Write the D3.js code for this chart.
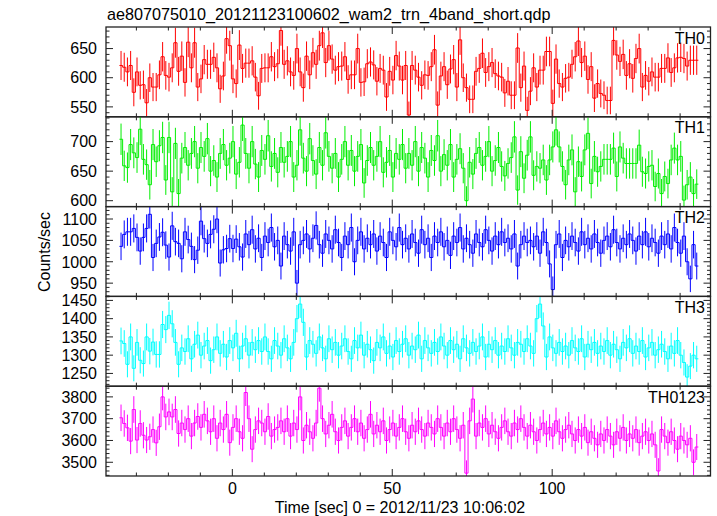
<!DOCTYPE html>
<html><head><meta charset="utf-8">
<script src="https://cdn.jsdelivr.net/npm/d3@7"></script>
<style>
body{margin:0;background:#fff}
svg text{font-family:"Liberation Sans",Arial,Helvetica,sans-serif;fill:#000}
</style>
</head><body>
<svg id="chart" width="717" height="516"></svg>
<script>
const title = "ae807075010_20121123100602_wam2_trn_4band_short.qdp";
const xLabel = "Time [sec] 0 = 2012/11/23 10:06:02";
const yLabel = "Counts/sec";
const binStart = -35.3;
const binWidth = 1;
const xTicksMajor = [0, 50, 100];

const panelNames = ["TH0", "TH1", "TH2", "TH3", "TH0123"];
const panelColors = ["#ff0000", "#00ee00", "#0000ff", "#00ffff", "#ff00ff"];
const yDomains = [[533, 687], [590, 742], [919, 1129], [1215, 1461], [3437, 3849]];
const yTicksMajor = [[550, 600, 650], [600, 650, 700], [950, 1000, 1050, 1100], [1250, 1300, 1350, 1400, 1450], [3500, 3600, 3700, 3800]];
const yMinorStep = [10, 10, 10, 10, 20];

const th0 = [
621,618,610,621,575,610,587,588,557,600,
584,584,605,636,604,601,617,660,611,637,
592,661,617,660,584,598,631,623,623,635,
617,581,603,667,655,598,590,656,616,625,
625,629,601,569,616,617,617,636,619,624,
681,623,629,610,604,650,610,583,637,605,
643,623,655,677,626,655,632,613,619,620,
636,597,605,605,650,592,593,624,627,622,
594,616,613,567,611,596,638,620,596,621,
536,621,613,601,587,605,604,619,648,553,
603,619,588,615,631,584,665,600,583,563,
563,611,616,642,609,619,626,607,603,601,
574,594,570,570,651,583,620,544,577,617,
584,613,613,645,645,556,632,590,584,599,
601,623,636,663,626,637,597,619,565,590,
573,570,561,561,664,639,628,640,604,624,
599,633,650,584,604,594,610,601,601,616,
616,634,609,617,634,635,633,620,630,630,
630];
const th1 = [
704,659,656,695,681,673,721,670,661,627,
695,666,693,707,635,707,615,697,612,672,
690,660,680,700,655,690,675,705,650,668,
640,680,695,660,672,700,645,665,728,680,
655,700,662,640,685,670,710,658,680,648,
690,665,675,700,640,660,720,672,650,705,
668,645,690,660,715,675,655,680,640,670,
700,660,685,650,675,695,630,668,690,660,
675,700,648,665,685,640,680,670,695,655,
680,660,700,650,690,672,640,685,668,710,
650,678,660,695,640,670,688,655,600,665,
645,680,690,660,675,700,650,668,690,658,
642,663,673,708,618,683,638,677,708,643,
658,655,669,635,669,691,720,691,658,627,
669,686,615,666,641,686,714,629,675,649,
658,670,670,670,689,641,691,672,663,663,
663,663,694,649,646,658,660,624,646,612,
641,629,669,689,669,675,601,627,640,612,
628];
const th2 = [
1036,1064,1070,1070,1078,1057,1025,1057,1078,1111,
1010,1043,1058,1069,1039,1011,1084,1047,1043,1007,
1070,1052,1036,1005,1027,1095,1054,1043,1064,1076,
1100,997,1028,1031,1054,1031,1053,1035,1011,1065,
1040,1075,1030,1055,1010,1060,1045,1080,1035,1050,
990,1060,1040,1025,1070,950,1040,1050,1065,1030,
1055,1085,1040,1020,1065,1050,1030,1075,1045,1010,
1060,1040,1080,1000,1050,1070,1030,1055,1040,1065,
1025,1060,1045,1010,1070,1050,1035,1080,1040,1055,
1030,1065,1045,1020,1075,1040,1055,1010,1060,1045,
1070,1035,1050,1015,1060,1045,1080,1030,1055,1040,
1020,1065,1045,1035,1075,1050,1025,1060,1040,1070,
1045,1055,1030,1065,990,1040,1060,1045,1050,1035,
1060,1020,1070,1045,995,935,1040,1065,1010,1050,
1035,1060,1045,1025,1070,1040,1055,1030,1065,1045,
1020,1050,1060,1035,1075,1045,1030,1055,1040,1065,
1050,1025,1060,1040,1070,1035,1055,1045,1020,1060,
1040,1065,1030,1080,1045,1020,1060,1000,960,1040,
990];
const th3 = [
1339,1332,1275,1350,1264,1335,1286,1277,1350,1311,
1336,1302,1302,1384,1370,1409,1386,1335,1275,1320,
1310,1345,1290,1330,1355,1300,1325,1340,1285,1315,
1350,1305,1330,1295,1340,1320,1360,1290,1325,1345,
1300,1335,1315,1340,1310,1350,1310,1290,1340,1325,
1300,1345,1320,1290,1335,1400,1440,1390,1295,1340,
1330,1305,1350,1320,1290,1345,1315,1335,1300,1325,
1345,1310,1290,1340,1320,1355,1300,1330,1315,1285,
1335,1320,1350,1305,1325,1295,1340,1310,1330,1345,
1300,1325,1315,1355,1290,1340,1320,1305,1335,1310,
1350,1325,1300,1340,1315,1330,1290,1345,1320,1305,
1335,1310,1325,1350,1295,1330,1315,1340,1300,1325,
1310,1345,1320,1300,1335,1330,1310,1345,1325,1305,
1400,1440,1380,1295,1350,1320,1305,1335,1310,1325,
1300,1340,1320,1310,1345,1295,1330,1315,1335,1305,
1325,1310,1340,1300,1330,1315,1290,1335,1320,1345,
1305,1325,1310,1340,1295,1320,1335,1300,1315,1330,
1310,1290,1325,1305,1340,1300,1280,1240,1270,1300,
1290];
const th0123 = [
3704,3678,3658,3597,3742,3602,3678,3624,3602,3617,
3650,3589,3663,3800,3708,3731,3708,3742,3632,3680,
3650,3700,3620,3680,3710,3660,3720,3690,3640,3700,
3610,3680,3650,3720,3590,3660,3700,3640,3610,3820,
3700,3560,3650,3690,3680,3640,3710,3620,3650,3660,
3690,3640,3700,3620,3680,3650,3800,3600,3670,3640,
3610,3680,3840,3700,3630,3670,3720,3640,3600,3660,
3690,3620,3660,3700,3640,3680,3610,3650,3720,3630,
3670,3640,3690,3600,3650,3680,3620,3660,3700,3640,
3610,3670,3640,3690,3650,3620,3680,3660,3630,3700,
3660,3620,3680,3640,3700,3650,3610,3670,3450,3690,
3790,3620,3680,3660,3700,3630,3670,3640,3610,3660,
3690,3640,3620,3680,3650,3700,3660,3620,3670,3640,
3600,3650,3680,3630,3660,3620,3690,3640,3610,3650,
3670,3630,3600,3650,3620,3660,3590,3640,3610,3580,
3630,3600,3650,3620,3580,3640,3610,3660,3600,3630,
3610,3650,3590,3620,3640,3600,3630,3580,3460,3650,
3620,3590,3640,3600,3560,3620,3600,3580,3610,3500,
3570];

const series = [th0, th1, th2, th3, th0123];

const svg = d3.select("#chart");
const plotLeft = 106, plotRight = 710.5;
const panelTop = 27, panelH = 89.8;
const x = d3.scaleLinear().domain([-39.5, 149.5]).range([plotLeft, plotRight]);

const defs = svg.append("defs");

series.forEach((vals, p) => {
  const top = panelTop + p * panelH;
  const bottom = top + panelH;
  const y = d3.scaleLinear().domain(yDomains[p]).range([bottom, top]);
  const g = svg.append("g");
  const clipId = "clip" + p;
  defs.append("clipPath").attr("id", clipId)
    .append("rect").attr("x", plotLeft).attr("y", top).attr("width", plotRight - plotLeft).attr("height", panelH);

  const data = vals.map((v, i) => ({t0: binStart + i * binWidth, v, e: Math.sqrt(v)}));
  const dg = g.append("g").attr("clip-path", `url(#${clipId})`);
  const stepPts = data.map(d => [d.t0, d.v]).concat([[binStart + vals.length * binWidth, vals[vals.length - 1]]]);
  const line = d3.line().x(d => x(d[0])).y(d => y(d[1])).curve(d3.curveStepAfter);
  dg.append("g").selectAll("line").data(data).join("line")
    .attr("x1", d => x(d.t0 + binWidth / 2)).attr("x2", d => x(d.t0 + binWidth / 2))
    .attr("y1", d => y(d.v - d.e)).attr("y2", d => y(d.v + d.e))
    .attr("stroke", panelColors[p]).attr("stroke-width", 1);
  dg.append("path").attr("d", line(stepPts)).attr("fill", "none")
    .attr("stroke", panelColors[p]).attr("stroke-width", 1);

  const minor = d3.range(Math.ceil(yDomains[p][0] / yMinorStep[p]) * yMinorStep[p], yDomains[p][1], yMinorStep[p]);
  const tg = g.append("g").attr("stroke", "#222").attr("stroke-width", 1);
  minor.forEach(v => {
    const isMajor = yTicksMajor[p].includes(v);
    const len = isMajor ? 7 : 3.5;
    tg.append("line").attr("x1", plotLeft).attr("x2", plotLeft + len).attr("y1", y(v)).attr("y2", y(v));
    tg.append("line").attr("x1", plotRight).attr("x2", plotRight - len).attr("y1", y(v)).attr("y2", y(v));
  });
  d3.range(-30, 150, 10).forEach(t => {
    const len = xTicksMajor.includes(t) ? 7 : 3.5;
    tg.append("line").attr("x1", x(t)).attr("x2", x(t)).attr("y1", bottom).attr("y2", bottom - len);
    tg.append("line").attr("x1", x(t)).attr("x2", x(t)).attr("y1", top).attr("y2", top + len);
  });
  g.append("g").selectAll("text").data(yTicksMajor[p]).join("text")
    .attr("x", 97).attr("y", d => y(d)).attr("dy", "0.36em")
    .attr("text-anchor", "end").attr("font-size", 16).text(d => d);
  g.append("rect").attr("x", plotLeft).attr("y", top).attr("width", plotRight - plotLeft).attr("height", panelH)
    .attr("fill", "none").attr("stroke", "#222").attr("stroke-width", 1.3);
  g.append("text").attr("x", 705).attr("y", top + 16.5).attr("text-anchor", "end")
    .attr("font-size", 16).text(panelNames[p]);
});

const lastBottom = panelTop + 5 * panelH;
svg.append("g").selectAll("text").data(xTicksMajor).join("text")
  .attr("x", d => x(d)).attr("y", lastBottom + 18).attr("text-anchor", "middle")
  .attr("font-size", 16).text(d => d);
svg.append("text").attr("x", 400).attr("y", 513).attr("text-anchor", "middle")
  .attr("font-size", 16).text(xLabel);
svg.append("text").attr("transform", "translate(50,252) rotate(-90)").attr("text-anchor", "middle")
  .attr("font-size", 16).text(yLabel);
svg.append("text").attr("x", 107).attr("y", 20).attr("font-size", 16.2).text(title);
</script>
</body></html>
